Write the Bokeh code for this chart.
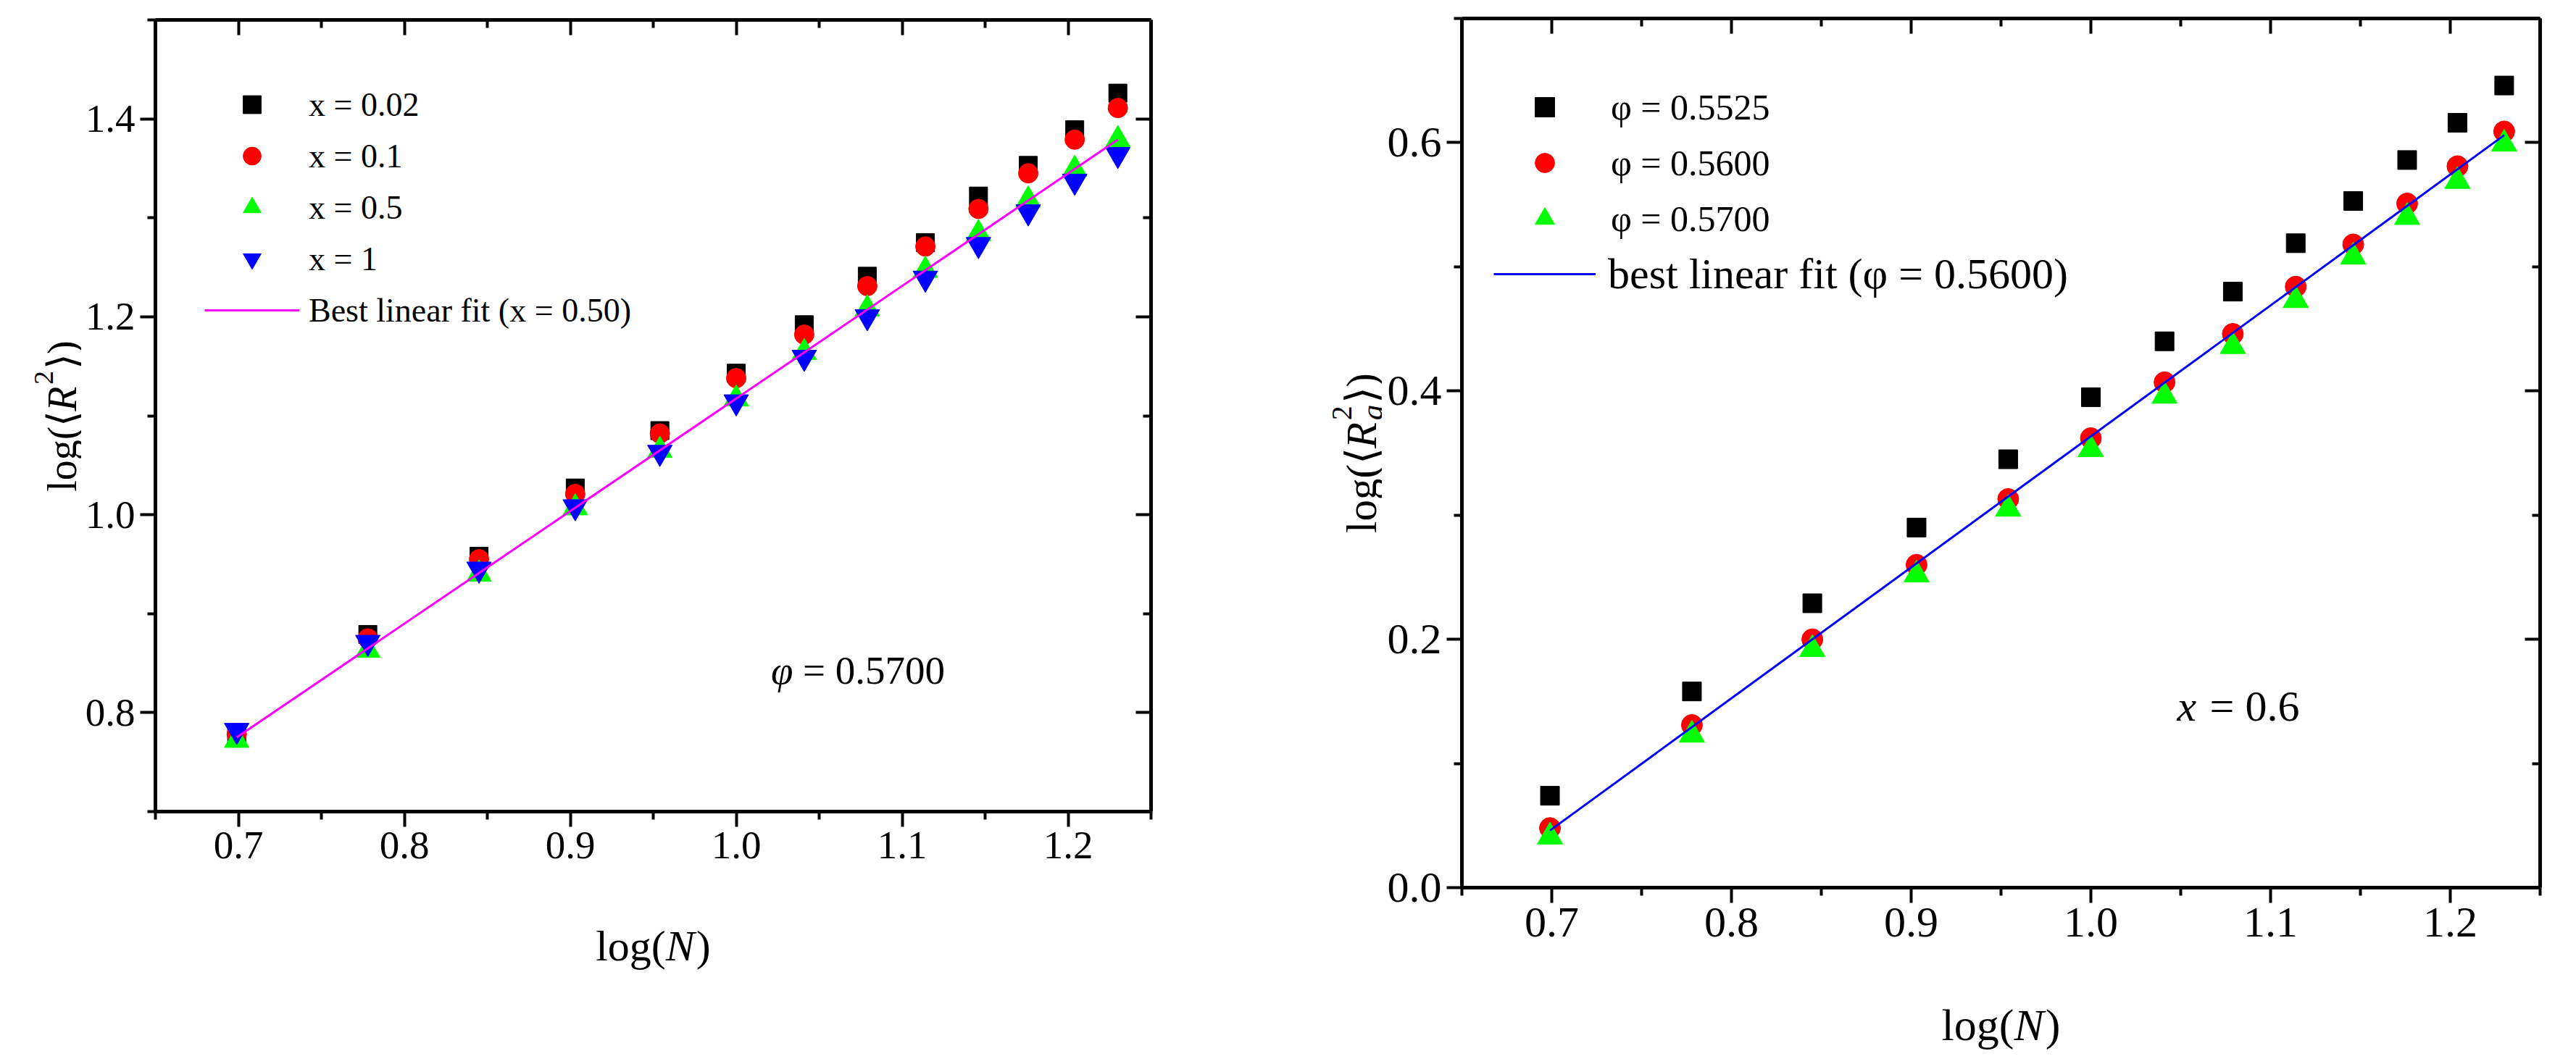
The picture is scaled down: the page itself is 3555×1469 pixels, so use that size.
import numpy as np
from bokeh.plotting import figure
from bokeh.models import (Range1d, LinearAxis, FixedTicker, PrintfTickFormatter,
                          Label, Legend, LegendItem)
from bokeh.layouts import row, column
from bokeh.embed import file_html
from bokeh.resources import INLINE

FONT = "Liberation Serif"

# ---------------- data ----------------
log_N = [0.699, 0.778, 0.845, 0.903, 0.954, 1.000, 1.041, 1.079, 1.114, 1.146, 1.176, 1.204, 1.230]

# left panel: log<R^2> vs log(N), phi = 0.5700
left_labels = ["x = 0.02", "x = 0.1", "x = 0.5", "x = 1"]
left_x002 = [0.779, 0.879, 0.958, 1.027, 1.085, 1.143, 1.192, 1.241, 1.275, 1.322, 1.353, 1.389, 1.426]
left_x01 = [0.778, 0.875, 0.955, 1.021, 1.082, 1.138, 1.182, 1.231, 1.271, 1.309, 1.345, 1.379, 1.411]
left_x05 = [0.772, 0.863, 0.940, 1.007, 1.065, 1.117, 1.164, 1.208, 1.247, 1.284, 1.318, 1.349, 1.379]
left_x1 = [0.782, 0.871, 0.945, 1.008, 1.063, 1.114, 1.159, 1.200, 1.239, 1.273, 1.306, 1.337, 1.364]
left_fit_label = "Best linear fit (x = 0.50)"
left_fit_x = [0.699, 1.230]
left_fit_y = [0.775, 1.379]

# right panel: log<Rg^2> vs log(N), x = 0.6
right_labels = ["φ = 0.5525", "φ = 0.5600", "φ = 0.5700"]
right_p5525 = [0.074, 0.158, 0.229, 0.290, 0.345, 0.395, 0.440, 0.480, 0.519, 0.553, 0.586, 0.616, 0.646]
right_p5600 = [0.048, 0.131, 0.200, 0.260, 0.313, 0.362, 0.407, 0.446, 0.484, 0.518, 0.551, 0.581, 0.609]
right_p5700 = [0.041, 0.123, 0.192, 0.252, 0.305, 0.353, 0.396, 0.436, 0.473, 0.508, 0.540, 0.569, 0.599]
right_fit_label = "best linear fit (φ = 0.5600)"
right_fit_x = [0.699, 1.230]
right_fit_y = [0.046, 0.606]

x_ticks = [0.7, 0.8, 0.9, 1.0, 1.1, 1.2]
x_minor = [0.65, 0.75, 0.85, 0.95, 1.05, 1.15, 1.25]
left_y_ticks = [0.8, 1.0, 1.2, 1.4]
left_y_minor = [0.7, 0.9, 1.1, 1.3, 1.5]
right_y_ticks = [0.0, 0.2, 0.4, 0.6]
right_y_minor = [0.1, 0.3, 0.5, 0.7]

TOTAL_H = 1452


# ---------------- helpers ----------------
def no_align(p):
    try:
        p.frame_align = False
    except Exception:
        pass


def make_panel(width, height, borders, xr, yr, yt, ym, tick_font):
    bl, br, bt, bb = borders
    p = figure(width=width, height=height, x_range=Range1d(*xr), y_range=Range1d(*yr),
               output_backend="svg", toolbar_location=None,
               min_border_left=bl, min_border_right=br, min_border_top=bt, min_border_bottom=bb)
    no_align(p)
    p.grid.visible = False
    p.outline_line_color = None
    p.add_layout(LinearAxis(), "above")
    p.add_layout(LinearAxis(), "right")
    for ax in p.xaxis:
        ax.ticker = FixedTicker(ticks=x_ticks, minor_ticks=x_minor)
    for ax in p.yaxis:
        ax.ticker = FixedTicker(ticks=yt, minor_ticks=ym)
    for ax in p.axis:
        ax.formatter = PrintfTickFormatter(format="%.1f")
        ax.axis_line_width = 5
        ax.axis_line_color = "black"
        ax.major_tick_line_width = 4
        ax.minor_tick_line_width = 4
        ax.major_tick_line_color = "black"
        ax.minor_tick_line_color = "black"
    for ax in (p.below[0], p.left[0]):
        ax.major_tick_in = 0
        ax.major_tick_out = 21
        ax.minor_tick_in = 0
        ax.minor_tick_out = 11
        ax.major_label_text_font = FONT
        ax.major_label_text_font_size = f"{tick_font}px"
        ax.major_label_text_color = "black"
        ax.major_label_standoff = 7
    for ax in (p.above[0], p.right[0]):
        ax.major_tick_in = 21
        ax.major_tick_out = 0
        ax.minor_tick_in = 11
        ax.minor_tick_out = 0
        ax.major_label_text_font_size = "8px"
        ax.major_label_text_color = None
        ax.major_label_standoff = 0
    return p


def title_box(width, height):
    """Blank pixel-space canvas holding an axis title (frame = whole canvas)."""
    f = figure(width=width, height=height, x_range=Range1d(0, width), y_range=Range1d(0, height),
               output_backend="svg", toolbar_location=None,
               x_axis_location=None, y_axis_location=None,
               min_border_left=0, min_border_right=0, min_border_top=0, min_border_bottom=0)
    no_align(f)
    f.grid.visible = False
    f.outline_line_color = None
    return f


def rich_text(p, pieces, x, y, size, vertical=False, center=False):
    """Text made of pieces (text, italic, scale, rise_em, advance_em), anchored in data space."""
    total = sum(pc[4] for pc in pieces) * size
    pos = -total / 2 if center else 0.0
    for text, italic, scale, rise, adv in pieces:
        if vertical:
            dx, dy = -rise * size, pos
        else:
            dx, dy = pos, rise * size
        p.add_layout(Label(x=x, y=y, x_units="data", y_units="data",
                           x_offset=dx, y_offset=dy,
                           text=text, angle=np.pi / 2 if vertical else 0.0,
                           text_font=FONT, text_font_size=f"{size * scale:.1f}px",
                           text_font_style="italic" if italic else "normal",
                           text_align="left", text_baseline="alphabetic", text_color="black"))
        pos += adv * size


def add_legend(p, items, loc, glyph_w, glyph_h, spacing, standoff, font):
    leg = Legend(items=items, location=loc, orientation="vertical",
                 glyph_width=glyph_w, glyph_height=glyph_h, label_height=glyph_h,
                 spacing=spacing, label_standoff=standoff, padding=0, margin=0,
                 border_line_color=None, background_fill_alpha=0,
                 label_text_font=FONT, label_text_font_size=f"{font}px",
                 label_text_color="black")
    p.add_layout(leg)


LOGN_TITLE = [("log(", False, 1, 0, 1.611), ("N", True, 1, 0, 0.70), (")", False, 1, 0, 0.333)]

# ---------------- left panel ----------------
P1_H = 1232
p1 = make_panel(1580, P1_H, (102, 104, 27, 112), (0.65, 1.25), (0.70, 1.50),
                left_y_ticks, left_y_minor, 55)
r1 = p1.scatter(log_N, left_x002, marker="square", size=25, color="#000000")
r2 = p1.scatter(log_N, left_x01, marker="circle", size=27, color="#FF0000")
r3 = p1.scatter(log_N, left_x05, marker="triangle", size=34, color="#00FF00")
r4 = p1.scatter(log_N, left_x1, marker="inverted_triangle", size=34, color="#0000FF")
r5 = p1.line(left_fit_x, left_fit_y, line_color="#FF00FF", line_width=3)
add_legend(p1, [LegendItem(label=lab, renderers=[r]) for lab, r in
                zip(left_labels + [left_fit_label], [r1, r2, r3, r4, r5])],
           (68, 661), 131, 62, 9, 13, 46)
rich_text(p1, [("φ", True, 1, 0, 0.80), ("= 0.5700", False, 1, 0, 3.06)],
          1.021, 0.843, 55)

yt1 = title_box(112, TOTAL_H)
rich_text(yt1, [("log(", False, 1, 0, 1.611), ("⟨", False, 1, 0, 0.37), ("R", True, 1, 0, 0.66),
                ("2", False, 0.68, 0.45, 0.38), ("⟩", False, 1, 0, 0.37), (")", False, 1, 0, 0.333)],
          85, TOTAL_H - 574, 56, vertical=True, center=True)
xt1 = title_box(1580, TOTAL_H - P1_H)
rich_text(xt1, LOGN_TITLE, 789, TOTAL_H - (1313 - 8), 60, center=True)

# ---------------- right panel ----------------
P2_H = 1332
YT2_W = 215
p2 = make_panel(1847 - YT2_W, P2_H, (325 - YT2_W, 34, 25, 107), (0.65, 1.25), (0.0, 0.7),
                right_y_ticks, right_y_minor, 60)
s1 = p2.scatter(log_N, right_p5525, marker="square", size=26, color="#000000")
s2 = p2.scatter(log_N, right_p5600, marker="circle", size=29, color="#FF0000")
s3 = p2.scatter(log_N, right_p5700, marker="triangle", size=35, color="#00FF00")
s4 = p2.line(right_fit_x, right_fit_y, line_color="#0000FF", line_width=3)
add_legend(p2, [LegendItem(label=lab, renderers=[r]) for lab, r in zip(right_labels, [s1, s2, s3])],
           (44, 890), 141, 67, 10, 21, 50)
add_legend(p2, [LegendItem(label=right_fit_label, renderers=[s4])],
           (44, 812), 141, 70, 0, 17, 60)
rich_text(p2, [("x", True, 1, 0, 0.75), ("= 0.6", False, 1, 0, 2.06)],
          1.048, 0.146, 60)

yt2 = title_box(YT2_W, TOTAL_H)
rich_text(yt2, [("log(", False, 1, 0, 1.611), ("⟨", False, 1, 0, 0.37), ("R", True, 1, 0, 0.66),
                ("2", False, 0.68, 0.45, 0.0), ("g", True, 0.72, -0.25, 0.40),
                ("⟩", False, 1, 0, 0.37), (")", False, 1, 0, 0.333)],
          186, TOTAL_H - 625, 59, vertical=True, center=True)
xt2 = title_box(1847 - YT2_W, TOTAL_H - P2_H)
rich_text(xt2, LOGN_TITLE, 2769 - (1700 + YT2_W), TOTAL_H - (1422 - 8), 62, center=True)

layout = row(yt1, column(p1, xt1), yt2, column(p2, xt2))
open("out.html", "w").write(file_html(layout, INLINE))
